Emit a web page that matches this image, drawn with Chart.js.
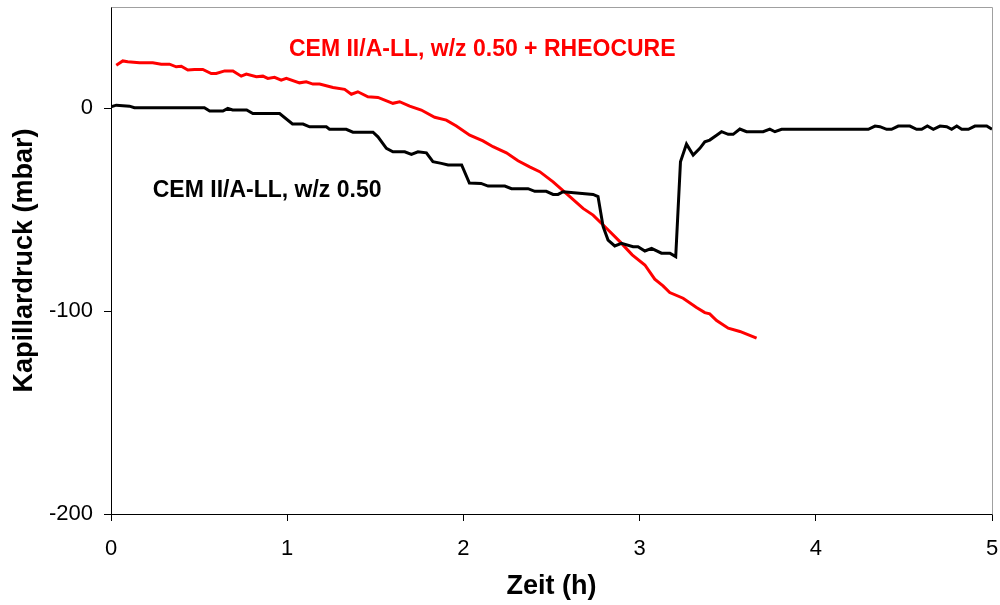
<!DOCTYPE html>
<html>
<head>
<meta charset="utf-8">
<script src="https://cdn.jsdelivr.net/npm/chart.js@4/dist/chart.umd.min.js"></script>
<style>
  body { margin: 0; background: #fff; }
  #wrap { width: 1000px; height: 605px; }
</style>
</head>
<body>
<div id="wrap"><canvas id="chart" width="1000" height="605"></canvas></div>
<script>
// CEM II/A-LL, w/z 0.50 (black)
const blackTime = [0, 0.03, 0.105, 0.133, 0.53, 0.56, 0.635, 0.663, 0.69, 0.77, 0.805, 0.957, 1.03, 1.09, 1.127, 1.222, 1.24, 1.335, 1.373, 1.487, 1.515, 1.563, 1.6, 1.667, 1.705, 1.742, 1.79, 1.827, 1.875, 1.913, 1.99, 2.034, 2.1, 2.14, 2.235, 2.273, 2.367, 2.405, 2.47, 2.509, 2.537, 2.566, 2.736, 2.764, 2.793, 2.821, 2.859, 2.897, 2.963, 2.991, 3.03, 3.068, 3.124, 3.172, 3.205, 3.232, 3.266, 3.304, 3.342, 3.37, 3.398, 3.437, 3.465, 3.503, 3.531, 3.569, 3.607, 3.701, 3.739, 3.768, 3.806, 4.298, 4.336, 4.364, 4.402, 4.43, 4.468, 4.534, 4.572, 4.601, 4.633, 4.667, 4.705, 4.743, 4.771, 4.8, 4.828, 4.866, 4.903, 4.97, 5.0];
const blackPressure = [0.8, 1.6, 1.1, 0.3, 0.3, -1.3, -1.3, 0, -0.8, -0.8, -2.5, -2.5, -7.7, -7.7, -9.1, -9.1, -10.3, -10.3, -11.7, -11.7, -14, -19.7, -21.4, -21.4, -22.7, -21.4, -21.9, -26.3, -27.1, -27.9, -27.9, -36.8, -37, -38.3, -38.3, -39.6, -39.6, -40.9, -40.9, -42.4, -42.4, -41.1, -42.4, -43.5, -58.3, -64.9, -67.8, -66.5, -68.2, -68.2, -70.3, -69, -71.4, -71.4, -73.1, -26.3, -17.6, -23, -19.7, -16.5, -15.6, -13.2, -11.5, -12.8, -12.8, -10.2, -11.5, -11.5, -10.2, -11.5, -10.3, -10.3, -8.7, -9, -10.3, -10.3, -8.7, -8.7, -10.3, -10.3, -8.7, -10.3, -8.7, -9, -10.3, -8.7, -10.3, -10.3, -8.7, -8.7, -10.3];

// CEM II/A-LL, w/z 0.50 + RHEOCURE (red)
const redTime = [0.03, 0.067, 0.095, 0.162, 0.237, 0.285, 0.332, 0.37, 0.399, 0.436, 0.474, 0.521, 0.569, 0.597, 0.645, 0.692, 0.739, 0.768, 0.825, 0.862, 0.89, 0.928, 0.966, 0.995, 1.07, 1.108, 1.146, 1.184, 1.26, 1.326, 1.364, 1.401, 1.458, 1.515, 1.6, 1.638, 1.695, 1.761, 1.837, 1.903, 1.96, 2.036, 2.111, 2.168, 2.244, 2.31, 2.376, 2.433, 2.509, 2.604, 2.679, 2.736, 2.812, 2.888, 2.958, 3.03, 3.086, 3.133, 3.171, 3.247, 3.323, 3.37, 3.398, 3.437, 3.503, 3.569, 3.664];
const redPressure = [21.3, 23.4, 23, 22.5, 22.5, 21.8, 21.8, 20.5, 20.8, 18.9, 19.2, 19.2, 17.2, 17.2, 18.5, 18.4, 15.9, 16.9, 15.6, 15.9, 14.8, 15.3, 13.9, 14.8, 12.6, 13.1, 12, 12, 10.3, 9.4, 7, 8.2, 5.7, 5.4, 2.5, 3.3, 1.1, -0.8, -4.4, -5.8, -8.7, -13.2, -16, -18.9, -21.9, -25.8, -28.8, -31.2, -36.2, -43.5, -49.3, -52.6, -59.1, -65.7, -72.2, -77.2, -84.2, -87.5, -90.8, -93.6, -98.2, -100.7, -101.3, -104.6, -108.4, -110, -113.3];

const xTicks = [0, 1, 2, 3, 4, 5];
const yTicks = [-200, -100, 0];

const seriesLabels = [
  { text: "CEM II/A-LL, w/z 0.50 + RHEOCURE", x: 1.01, y: 28.9, color: "#ff0000" },
  { text: "CEM II/A-LL, w/z 0.50", x: 0.237, y: -40.8, color: "#000000" }
];

function toPoints(xs, ys) {
  return xs.map((x, i) => ({ x: x, y: ys[i] }));
}

// grey frame on top and right of plot
const framePlugin = {
  id: "frame",
  beforeDatasetsDraw(chart) {
    const { ctx, chartArea: a } = chart;
    ctx.save();
    ctx.strokeStyle = "#a0a0a0";
    ctx.lineWidth = 1;
    ctx.beginPath();
    ctx.moveTo(Math.round(a.left) + 0.5, Math.round(a.top) + 0.5);
    ctx.lineTo(Math.round(a.right) + 0.5, Math.round(a.top) + 0.5);
    ctx.lineTo(Math.round(a.right) + 0.5, Math.round(a.bottom) + 0.5);
    ctx.stroke();
    ctx.restore();
  }
};

const labelPlugin = {
  id: "seriesText",
  afterDatasetsDraw(chart) {
    const { ctx, scales } = chart;
    ctx.save();
    ctx.font = "bold 23px 'Liberation Sans', Arial, sans-serif";
    ctx.textAlign = "left";
    ctx.textBaseline = "middle";
    seriesLabels.forEach(l => {
      ctx.fillStyle = l.color;
      ctx.fillText(l.text, scales.x.getPixelForValue(l.x), scales.y.getPixelForValue(l.y));
    });
    ctx.restore();
  }
};

let ctx = document.getElementById("chart").getContext("2d");

let chart = new Chart(ctx, {
  type: "line",
  data: {
    datasets: [
      {
        label: "CEM II/A-LL, w/z 0.50",
        data: toPoints(blackTime, blackPressure),
        borderColor: "#000000",
        borderWidth: 3,
        pointRadius: 0,
        tension: 0
      },
      {
        label: "CEM II/A-LL, w/z 0.50 + RHEOCURE",
        data: toPoints(redTime, redPressure),
        borderColor: "#ff0000",
        borderWidth: 3,
        pointRadius: 0,
        tension: 0
      }
    ]
  },
  options: {
    responsive: false,
    animation: false,
    layout: { padding: { top: 7, right: 8, left: 0, bottom: 0 } },
    plugins: {
      legend: { display: false },
      tooltip: { enabled: false }
    },
    scales: {
      x: {
        type: "linear",
        min: 0,
        max: 5,
        afterBuildTicks: axis => { axis.ticks = xTicks.map(v => ({ value: v })); },
        afterFit: scale => {
          scale.height = 91;
          scale.paddingLeft = 0;
          scale.paddingRight = 0;
        },
        ticks: {
          color: "#000",
          padding: 15,
          font: { family: "'Liberation Sans', Arial, sans-serif", size: 22 }
        },
        grid: { drawOnChartArea: false, tickLength: 7, color: "#000" },
        border: { color: "#000", width: 1 },
        title: {
          display: true,
          text: "Zeit (h)",
          color: "#000",
          padding: { top: 0, bottom: 2 },
          font: { family: "'Liberation Sans', Arial, sans-serif", size: 27, weight: "bold" }
        }
      },
      y: {
        min: -200,
        max: 50,
        afterBuildTicks: axis => { axis.ticks = yTicks.map(v => ({ value: v })); },
        afterFit: scale => {
          scale.width = 111;
          scale.paddingTop = 0;
          scale.paddingBottom = 0;
        },
        ticks: {
          color: "#000",
          padding: 11,
          font: { family: "'Liberation Sans', Arial, sans-serif", size: 22 }
        },
        grid: { drawOnChartArea: false, tickLength: 7, color: "#000" },
        border: { color: "#000", width: 1 },
        title: {
          display: true,
          text: "Kapillardruck (mbar)",
          color: "#000",
          padding: { top: 8, bottom: 0 },
          font: { family: "'Liberation Sans', Arial, sans-serif", size: 27, weight: "bold" }
        }
      }
    }
  },
  plugins: [framePlugin, labelPlugin]
});
</script>
</body>
</html>
